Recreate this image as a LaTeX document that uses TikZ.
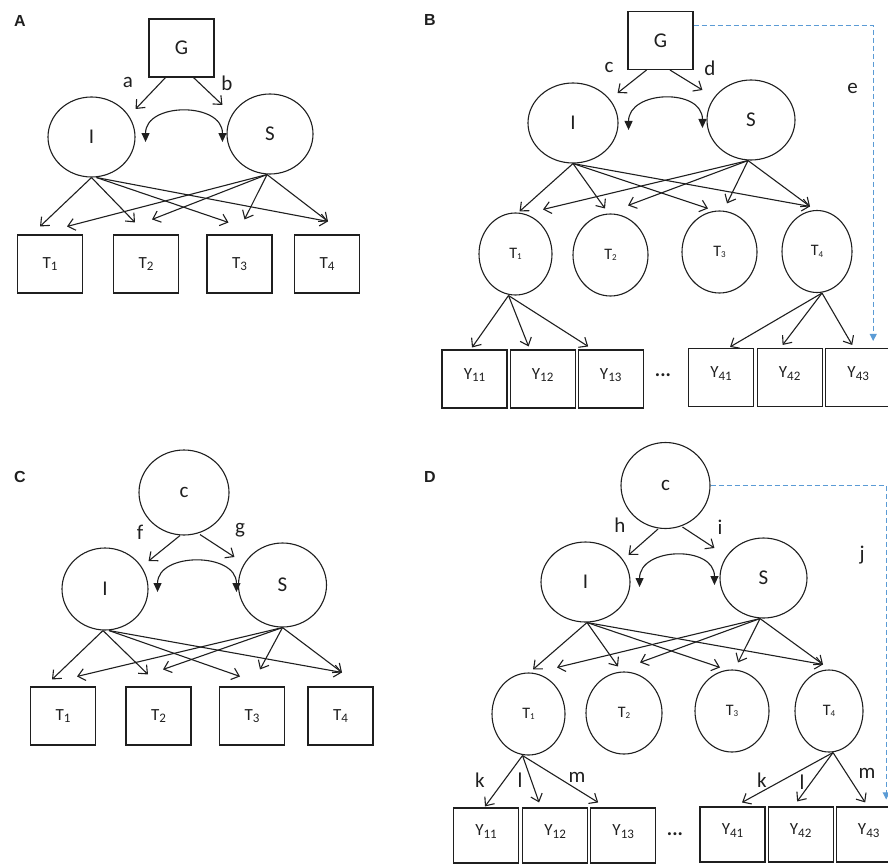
\documentclass[tikz,border=0pt]{standalone}
\usepackage{fontspec}
\setmainfont{Carlito}
\newfontfamily\panelfont{Liberation Sans}
\usepackage{xcolor}
\usepackage{tikz}
\usetikzlibrary{shapes,arrows.meta,positioning}
\definecolor{pathblue}{RGB}{91,155,213}
\newcommand{\subnum}[1]{\raisebox{-2.5pt}{\fontsize{13}{15}\selectfont #1}}
\newcommand{\subtiny}[1]{\raisebox{-1.5pt}{\fontsize{9}{11}\selectfont #1}}

\begin{document}
\begin{tikzpicture}[
    x=1pt, y=-1pt,
    line width=1.1pt, color=black!88,
    obs/.style={rectangle, draw, minimum width=65pt, minimum height=58pt, font=\fontsize{17}{20}\selectfont},
    obsY/.style={obs, text depth=10pt},
    latent/.style={ellipse, draw, minimum width=88pt, minimum height=80pt, inner sep=0pt, font=\fontsize{21}{24}\selectfont},
    factor/.style={ellipse, draw, minimum width=73pt, minimum height=82pt, inner sep=0pt, font=\fontsize{16}{19}\selectfont},
    coef/.style={font=\fontsize{21}{24}\selectfont, inner sep=1pt},
    dots/.style={font=\fontsize{20}{22}\selectfont\bfseries},
    panel/.style={font=\panelfont\bfseries\fontsize{16}{18}\selectfont},
    arrow/.style={-{Straight Barb[length=7pt,width=12pt]}},
    covar/.style={{Triangle[length=9pt,width=8pt]}-{Triangle[length=9pt,width=8pt]}},
    direct/.style={draw=pathblue, line width=0.9pt, dash pattern=on 5pt off 3pt, -{Triangle[length=7pt,width=7pt]}}
]
    \useasboundingbox (0,0) rectangle (888,864);
    \clip (0,0) rectangle (888,864);

    %=== Panel A ===
    \node [panel] (labA) at (20,21) {A};
    \node [obs, font=\fontsize{21}{24}\selectfont] (aG) at (181.5,48) {G};
    \node [latent, minimum width=87pt] (aI) at (91.5,137) {I};
    \node [latent, minimum width=86pt] (aS) at (270,134) {S};
    \node [obs] (aT1) at (50,264) {T\subnum{1}};
    \node [obs] (aT2) at (146,264) {T\subnum{2}};
    \node [obs] (aT3) at (239.5,264) {T\subnum{3}};
    \node [obs] (aT4) at (327,264) {T\subnum{4}};
    \node [coef] (aLa) at (128,82) {a};
    \node [coef] (aLb) at (227,83) {b};

    \draw [arrow] ([xshift=-16pt]aG.south) -- ([yshift=28pt]aI.east);
    \draw [arrow] ([xshift=12pt]aG.south) -- ([xshift=-4pt,yshift=29pt]aS.west);
    \draw [covar] ([xshift=10pt,yshift=-5pt]aI.east) .. controls +(0pt,40pt) and +(0pt,40pt) .. ([xshift=-4pt,yshift=-8pt]aS.west);

    %--- loadings ---
    \draw [arrow] (aI.south) -- ([xshift=-10pt,yshift=8pt]aT1.north);
    \draw [arrow] (aI.south) -- ([xshift=-11pt,yshift=12pt]aT2.north);
    \draw [arrow] ([xshift=5pt]aI.south) -- ([xshift=-11pt,yshift=12pt]aT3.north);
    \draw [arrow] ([xshift=5pt]aI.south) -- ([xshift=1pt,yshift=13pt]aT4.north);
    \draw [arrow] ([xshift=-3pt]aS.south) -- ([xshift=17pt,yshift=8pt]aT1.north);
    \draw [arrow] ([xshift=-3pt]aS.south) -- ([xshift=6pt,yshift=15pt]aT2.north);
    \draw [arrow] ([xshift=-3pt]aS.south) -- ([xshift=5pt,yshift=15pt]aT3.north);
    \draw [arrow] ([xshift=-3pt]aS.south) -- ([xshift=1pt,yshift=13pt]aT4.north);

    %=== Panel B ===
    \node [panel] (labB) at (430,20) {B};
    \node [obs, font=\fontsize{21}{24}\selectfont] (bG) at (660.5,40.5) {G};
    \node [latent, minimum width=90pt] (bI) at (573,123) {I};
    \node [latent] (bS) at (751,120) {S};
    \node [factor] (bT1) at (515.5,254) {T\subtiny{1}};
    \node [factor, minimum width=75pt] (bT2) at (610.5,255) {T\subtiny{2}};
    \node [factor, minimum width=75pt] (bT3) at (719.5,252) {T\subtiny{3}};
    \node [factor, minimum width=70pt] (bT4) at (817,251.5) {T\subtiny{4}};
    \node [obsY] (bY11) at (474.5,379) {Y\subnum{11}};
    \node [obsY, right=2pt of bY11] (bY12) {Y\subnum{12}};
    \node [obsY, right=2pt of bY12] (bY13) {Y\subnum{13}};
    \node [dots] (bDots) at (663,375) {...};
    \node [obsY] (bY41) at (721,377.5) {Y\subnum{41}};
    \node [obsY, right=2.5pt of bY41] (bY42) {Y\subnum{42}};
    \node [obsY, right=2.5pt of bY42] (bY43) {Y\subnum{43}};
    \node [coef] (bLc) at (609,67) {c};
    \node [coef] (bLd) at (710,68) {d};

    \draw [arrow] ([xshift=-14pt]bG.south) -- ([xshift=-1pt,yshift=30pt]bI.east);
    \draw [arrow] ([xshift=9.5pt]bG.south) -- ([xshift=-4pt,yshift=30pt]bS.west);
    \draw [covar] ([xshift=10pt,yshift=-7pt]bI.east) .. controls +(0pt,40pt) and +(0pt,40pt) .. ([xshift=-4pt,yshift=-8pt]bS.west);
    \draw [direct] ([yshift=15pt]bG.east) -| node[coef, left, pos=0.6, xshift=-14pt] (bLe) {e} ([xshift=15pt,yshift=7pt]bY43.north);

    %--- loadings ---
    \draw [arrow] (bI.south) -- ([xshift=4pt,yshift=1pt]bT1.north);
    \draw [arrow] (bI.south) -- ([xshift=-5.5pt,yshift=5pt]bT2.north);
    \draw [arrow] (bI.south) -- ([xshift=-11.5pt,yshift=2pt]bT3.north);
    \draw [arrow] (bI.south) -- ([xshift=-7pt,yshift=3.5pt]bT4.north);
    \draw [arrow] ([xshift=-3pt]bS.south) -- ([xshift=27.5pt,yshift=3pt]bT1.north);
    \draw [arrow] ([xshift=-3pt]bS.south) -- ([xshift=17.5pt,yshift=8pt]bT2.north);
    \draw [arrow] ([xshift=-3pt]bS.south) -- ([xshift=7.5pt,yshift=7pt]bT3.north);
    \draw [arrow] ([xshift=-3pt]bS.south) -- ([xshift=-7pt,yshift=3.5pt]bT4.north);

    %--- items ---
    \draw [arrow] ([xshift=-7pt]bT1.south) -- ([xshift=-2.5pt,yshift=2pt]bY11.north);
    \draw [arrow] ([xshift=-7pt]bT1.south) -- ([xshift=-14pt,yshift=3pt]bY12.north);
    \draw [arrow] ([xshift=-7pt]bT1.south) -- ([xshift=-22.5pt,yshift=3pt]bY13.north);
    \draw [arrow] ([xshift=5pt]bT4.south) -- ([xshift=9pt,yshift=1pt]bY41.north);
    \draw [arrow] ([xshift=5pt]bT4.south) -- ([xshift=-7pt,yshift=3pt]bY42.north);
    \draw [arrow] ([xshift=5pt]bT4.south) -- ([xshift=-6pt,yshift=3pt]bY43.north);

    %=== Panel C ===
    \node [panel] (labC) at (20,477) {C};
    \node [latent, minimum width=90pt, minimum height=85pt] (cc) at (184,492.5) {c};
    \node [latent, minimum width=86pt, minimum height=82pt] (cI) at (105,589) {I};
    \node [latent, minimum height=84pt] (cS) at (282.5,585) {S};
    \node [obs] (cT1) at (63,716) {T\subnum{1}};
    \node [obs] (cT2) at (158.5,716) {T\subnum{2}};
    \node [obs] (cT3) at (252,716) {T\subnum{3}};
    \node [obs] (cT4) at (340.5,716) {T\subnum{4}};
    \node [coef] (cLf) at (140,532) {f};
    \node [coef] (cLg) at (240,530) {g};

    \draw [arrow] ([xshift=-4pt]cc.south) -- ([yshift=28pt]cI.east);
    \draw [arrow] ([xshift=16pt,yshift=1pt]cc.south) -- ([xshift=-3.5pt,yshift=28pt]cS.west);
    \draw [covar] ([xshift=9pt,yshift=-3pt]cI.east) .. controls +(0pt,40pt) and +(0pt,40pt) .. ([xshift=-1.5pt,yshift=-7pt]cS.west);

    %--- loadings ---
    \draw [arrow] ([xshift=-2pt]cI.south) -- ([xshift=-11pt,yshift=7pt]cT1.north);
    \draw [arrow] ([xshift=-2pt]cI.south) -- ([xshift=-10.5pt,yshift=12pt]cT2.north);
    \draw [arrow] ([xshift=4pt]cI.south) -- ([xshift=-12pt,yshift=10pt]cT3.north);
    \draw [arrow] ([xshift=4pt]cI.south) -- ([xshift=1.5pt,yshift=14pt]cT4.north);
    \draw [arrow] (cS.south) -- ([xshift=14pt,yshift=10pt]cT1.north);
    \draw [arrow] (cS.south) -- ([xshift=4.5pt,yshift=17pt]cT2.north);
    \draw [arrow] (cS.south) -- ([xshift=8pt,yshift=17pt]cT3.north);
    \draw [arrow] (cS.south) -- ([xshift=1.5pt,yshift=14pt]cT4.north);

    %=== Panel D ===
    \node [panel] (labD) at (430,477) {D};
    \node [latent, minimum width=89pt, minimum height=86pt] (dc) at (665.5,485.5) {c};
    \node [latent, minimum width=89pt] (dI) at (585.5,582) {I};
    \node [latent, minimum width=87pt] (dS) at (763.5,578) {S};
    \node [factor] (dT1) at (528.5,714) {T\subtiny{1}};
    \node [factor, minimum width=76pt] (dT2) at (624,713) {T\subtiny{2}};
    \node [factor, minimum width=74pt] (dT3) at (732,711) {T\subtiny{3}};
    \node [factor, minimum width=68pt] (dT4) at (829,711) {T\subtiny{4}};
    \node [obsY, minimum height=55pt] (dY11) at (486,835.5) {Y\subnum{11}};
    \node [obsY, minimum height=55pt, right=3pt of dY11] (dY12) {Y\subnum{12}};
    \node [obsY, minimum height=55pt, right=2pt of dY12] (dY13) {Y\subnum{13}};
    \node [dots] (dDots) at (675,834) {...};
    \node [obsY, minimum height=55pt] (dY41) at (732.5,834.5) {Y\subnum{41}};
    \node [obsY, minimum height=55pt, right=2pt of dY41] (dY42) {Y\subnum{42}};
    \node [obsY, minimum height=55pt, right=2pt of dY42] (dY43) {Y\subnum{43}};
    \node [coef] (dLh) at (620,525) {h};
    \node [coef] (dLi) at (720,527) {i};
    \node [coef] (dLk1) at (480,780) {k};
    \node [coef] (dLl1) at (520,780) {l};
    \node [coef] (dLm1) at (577,777) {m};
    \node [coef] (dLk4) at (762,780) {k};
    \node [coef] (dLl4) at (802,782) {l};
    \node [coef] (dLm4) at (867,773) {m};

    \draw [arrow] ([xshift=-7.5pt]dc.south) -- ([xshift=-2pt,yshift=27pt]dI.east);
    \draw [arrow] ([xshift=17pt,yshift=2pt]dc.south) -- ([xshift=-5pt,yshift=30pt]dS.west);
    \draw [covar] ([xshift=9pt,yshift=-5pt]dI.east) .. controls +(0pt,40pt) and +(0pt,40pt) .. ([xshift=-5pt,yshift=-7pt]dS.west);
    \draw [direct] (dc.east) -| node[coef, left, pos=0.61, xshift=-20pt] (dLj) {j} ([xshift=17.5pt,yshift=7pt]dY43.north);

    %--- loadings ---
    \draw [arrow] ([xshift=1.5pt]dI.south) -- ([xshift=4.5pt,yshift=3pt]dT1.north);
    \draw [arrow] ([xshift=1.5pt]dI.south) -- ([xshift=-6pt,yshift=5pt]dT2.north);
    \draw [arrow] ([xshift=1.5pt]dI.south) -- ([xshift=-12pt,yshift=2pt]dT3.north);
    \draw [arrow] ([xshift=1.5pt]dI.south) -- ([xshift=-6pt,yshift=5pt]dT4.north);
    \draw [arrow] ([xshift=-3.5pt]dS.south) -- ([xshift=28.5pt,yshift=5pt]dT1.north);
    \draw [arrow] ([xshift=-3.5pt]dS.south) -- ([xshift=16pt,yshift=9pt]dT2.north);
    \draw [arrow] ([xshift=-3.5pt]dS.south) -- ([xshift=6pt,yshift=7pt]dT3.north);
    \draw [arrow] ([xshift=-3.5pt]dS.south) -- ([xshift=-6pt,yshift=5pt]dT4.north);

    %--- items ---
    \draw [arrow] ([xshift=-6pt]dT1.south) -- ([xshift=-1pt,yshift=1pt]dY11.north);
    \draw [arrow] ([xshift=-6pt]dT1.south) -- ([xshift=-16pt,yshift=5pt]dY12.north);
    \draw [arrow] ([xshift=-6pt]dT1.south) -- ([xshift=-25pt,yshift=5pt]dY13.north);
    \draw [arrow] ([xshift=4pt]dT4.south) -- ([xshift=9.5pt,yshift=4pt]dY41.north);
    \draw [arrow] ([xshift=4pt]dT4.south) -- ([xshift=-3.5pt,yshift=5pt]dY42.north);
    \draw [arrow] ([xshift=4pt]dT4.south) -- ([xshift=-3.5pt,yshift=4pt]dY43.north);

\end{tikzpicture}
\end{document}
